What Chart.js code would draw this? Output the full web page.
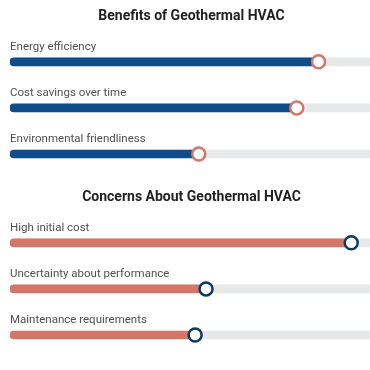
<!DOCTYPE html>
<html>
<head>
<meta charset="utf-8">
<script src="https://cdn.jsdelivr.net/npm/chart.js@4"></script>
<style>
  html, body { margin: 0; padding: 0; background: #fff; }
  .wrap { width: 370px; height: 370px; overflow: hidden; position: relative; }
  .box { position: absolute; left: 0; width: 384px; height: 186px; }
  #top { top: 0; }
  #bottom { top: 181px; }
</style>
</head>
<body>
<div class="wrap">
  <div class="box" id="top"><canvas id="benefits"></canvas></div>
  <div class="box" id="bottom"><canvas id="concerns"></canvas></div>
</div>
<script>
// 两个滑块式横条图:底轨 0-100,值条圆头,端点一个空心圆
const BENEFIT_LABELS = ["Energy efficiency", "Cost savings over time", "Environmental friendliness"];
const BENEFIT_VALUES = [85, 79, 52];
const CONCERN_LABELS = ["High initial cost", "Uncertainty about performance", "Maintenance requirements"];
const CONCERN_VALUES = [94, 54, 51];
const SCALE_MAX = 100;

const NAVY = "#0f4c8a";
const SALMON = "#d4776b";
const TRACK = "#e7e8ea";

// 类别名画在每根条上方,左对齐
const rowLabels = {
  id: "rowLabels",
  afterDatasetsDraw(chart) {
    const ctx = chart.ctx;
    const meta = chart.getDatasetMeta(0);
    ctx.save();
    ctx.font = "11.5px Roboto, sans-serif";
    ctx.fillStyle = "#505050";
    ctx.textBaseline = "middle";
    ctx.textAlign = "left";
    meta.data.forEach(function (bar, i) {
      ctx.fillText(chart.data.labels[i], chart.chartArea.left, bar.y - 15);
    });
    ctx.restore();
  },
};

function makeChart(canvas, title, labels, values, barColor, ringColor) {
  return new Chart(canvas, {
    type: "bar",
    data: {
      labels: labels,
      datasets: [
        {
          // 底轨
          data: labels.map(() => SCALE_MAX),
          backgroundColor: TRACK,
          barThickness: 8,
          borderRadius: 4,
          borderSkipped: false,
          grouped: false,
          order: 2,
        },
        {
          data: values,
          backgroundColor: barColor,
          barThickness: 8,
          borderRadius: 4,
          borderSkipped: false,
          grouped: false,
          order: 1,
        },
        {
          type: "line",
          data: values,
          showLine: false,
          pointRadius: 6.5,
          pointHoverRadius: 6.5,
          pointBackgroundColor: "#fff",
          pointBorderColor: ringColor,
          pointBorderWidth: 2.5,
          order: 0,
        },
      ],
    },
    options: {
      indexAxis: "y",
      responsive: true,
      maintainAspectRatio: false,
      animation: false,
      layout: { padding: { left: 10, right: 11, top: 1, bottom: 9 } },
      scales: {
        x: { min: 0, max: SCALE_MAX, display: false },
        y: { display: false },
      },
      plugins: {
        legend: { display: false },
        tooltip: { enabled: false },
        title: {
          display: true,
          text: title,
          color: "#222",
          font: { family: "Roboto, sans-serif", size: 14, weight: "bold" },
          padding: { top: 7, bottom: 14 },
        },
      },
    },
    plugins: [rowLabels],
  });
}

makeChart(document.getElementById("benefits"), "Benefits of Geothermal HVAC",
  BENEFIT_LABELS, BENEFIT_VALUES, NAVY, SALMON);
makeChart(document.getElementById("concerns"), "Concerns About Geothermal HVAC",
  CONCERN_LABELS, CONCERN_VALUES, SALMON, "#0e3a66");
</script>
</body>
</html>
